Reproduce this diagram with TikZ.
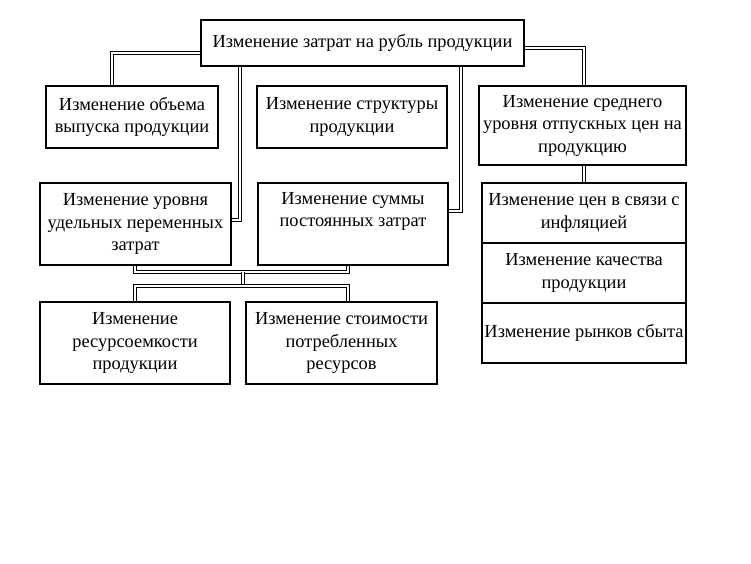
\documentclass[tikz,border=0pt]{standalone}
\usepackage{fontspec}
\setmainfont{Liberation Serif}
\usetikzlibrary{backgrounds}

\tikzset{
  box/.style={draw, line width=1.1pt, rectangle, inner sep=0pt, align=center,
    font=\fontsize{18.4}{22.5}\selectfont},
  conn/.style={draw, double=white, line width=1.05pt, double distance=1.5pt}
}

\begin{document}
\begin{tikzpicture}[x=1pt, y=1pt]
      \useasboundingbox (0,0) rectangle (751,-563);
      % Define nodes
      \node[box, minimum width=323, minimum height=46] (top) at (362.5,-43) {Изменение затрат на рубль продукции};
      \node[box, minimum width=172, minimum height=62] (obem) at (132,-117) {Изменение объема\\выпуска продукции};
      \node[box, minimum width=190, minimum height=62] (struct) at (352,-117) {Изменение структуры\\продукции};
      \node[box, minimum width=207, minimum height=79] (cena) at (582.5,-125.5) {Изменение среднего\\уровня отпускных цен на\\продукцию};
      \node[box, minimum width=191, minimum height=82] (perem) at (135.5,-224) {Изменение уровня\\удельных переменных\\затрат};
      \node[box, minimum width=190, minimum height=82] (post) at (353,-224) {Изменение суммы\\постоянных затрат\\\strut};
      \node[box, minimum width=204, minimum height=60] (infl) at (584,-213) {Изменение цен в связи с\\инфляцией};
      \node[box, minimum width=204, minimum height=60] (kach) at (584,-273) {Изменение качества\\продукции};
      \node[box, minimum width=204, minimum height=60] (rynok) at (584,-333) {Изменение рынков сбыта};
      \node[box, minimum width=190, minimum height=82] (resurs) at (135,-343) {Изменение\\ресурсоемкости\\продукции};
      \node[box, minimum width=191, minimum height=82] (stoim) at (341.5,-343) {Изменение стоимости\\потребленных\\ресурсов};
      \coordinate (upj) at (243,-272);
      \coordinate (lowj) at (243,-286);
      % Connectors
      \begin{scope}[on background layer]
        \path[conn] ([yshift=-10pt]top.west) -| ([xshift=-20pt]obem.north);
        \path[conn] ([yshift=-5pt]top.east) -| (infl.north |- cena.north);
        \path[conn] ([xshift=-122.5pt]top.south) |- ([yshift=4pt]perem.east);
        \path[conn] ([xshift=98.5pt]top.south) |- ([yshift=13pt]post.east);
        \path[conn] (infl.north |- cena.south) -- (infl.north);
        \path[conn] (resurs.north |- perem.south) |- (upj) -| ([xshift=-5pt]post.south);
        \path[conn] (upj) -- (lowj);
        \path[conn] (resurs.north) |- (lowj) -| ([xshift=6.5pt]stoim.north);
      \end{scope}
\end{tikzpicture}
\end{document}
